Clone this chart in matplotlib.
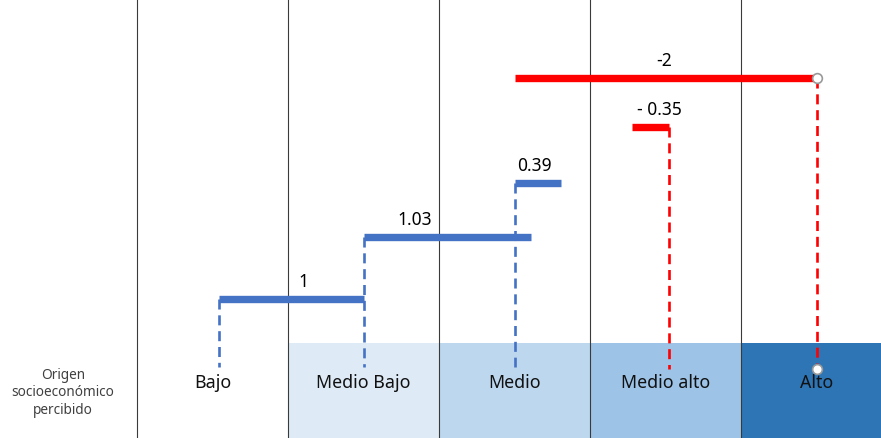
import numpy as np
import matplotlib
matplotlib.use("Agg")
import matplotlib.pyplot as plt

# categories along the bottom band
categories = ["Bajo", "Medio Bajo", "Medio", "Medio alto", "Alto"]
band_colors = ["#FFFFFF", "#DEEBF7", "#BDD7EE", "#9DC3E6", "#2E75B6"]

# blue steps (positive effects): start, end, level, label
blue_start = [0.04, 1.0, 2.0]
blue_end = [1.0, 2.11, 2.31]
blue_level = [13.9, 20.1, 25.5]
blue_labels = ["1", "1.03", "0.39"]
blue_label_x = [0.6, 1.34, 2.13]

# red steps (negative effects)
red_start = [2.78, 2.0]
red_end = [3.02, 4.0]
red_level = [31.1, 36.0]
red_labels = ["- 0.35", "-2"]
red_label_x = [2.96, 2.99]

BLUE = "#4472C4"
RED = "#FF0000"
BAND_TOP = 9.5
DASH_BOTTOM = 7.1

plt.rcParams['font.family'] = ['Noto Sans', 'DejaVu Sans']

fig = plt.figure(figsize=(8.81, 4.39), dpi=100)
ax = fig.add_axes([0, 0, 1, 1])
ax.set_xlim(-212.5 / 151, 668.5 / 151)
ax.set_ylim(0, 43.9)
ax.axis("off")

x = np.arange(len(categories))
# coloured band with category names
ax.bar(x, BAND_TOP, width=1.0, bottom=0, color=band_colors, zorder=0)
for xi, name in zip(x, categories):
    ax.text(xi, 5.6, name, ha="center", va="center", fontsize=12.8, color="#111111")

# separators
for xi in x:
    ax.axvline(xi - 0.5, color="#3a3a3a", lw=0.8, zorder=1)

ax.text(-0.99, 4.6, "Origen\nsocioeconómico\npercibido", ha="center", va="center",
        fontsize=9.8, color="#404040", linespacing=1.2)

# blue steps: dashed drop from the start of each bar
for s, e, lv, lab, lx in zip(blue_start, blue_end, blue_level, blue_labels, blue_label_x):
    ax.plot([s, e], [lv, lv], color=BLUE, lw=5.3, solid_capstyle="butt", zorder=3)
    ax.plot([s, s], [lv, DASH_BOTTOM], color=BLUE, lw=1.9, ls=(0, (3.8, 2.2)), zorder=2)
    ax.text(lx, lv + 1.8, lab, ha="center", va="center", fontsize=12.5, color="#000000")

# red steps: dashed drop from the end of each bar
for s, e, lv, lab, lx in zip(red_start, red_end, red_level, red_labels, red_label_x):
    ax.plot([s, e], [lv, lv], color=RED, lw=5.3, solid_capstyle="butt", zorder=3)
    ax.plot([e, e], [lv, DASH_BOTTOM - 0.2], color=RED, lw=1.9, ls=(0, (3.8, 2.2)), zorder=2)
    ax.text(lx, lv + 1.8, lab, ha="center", va="center", fontsize=12.5, color="#000000")

# circle markers on the long red step
ax.plot([red_end[-1]] * 2, [red_level[-1], DASH_BOTTOM - 0.2], ls="none", marker="o",
        ms=7, mfc="white", mec="#999999", mew=1.2, zorder=4)

fig.savefig("out.png", dpi=100)
